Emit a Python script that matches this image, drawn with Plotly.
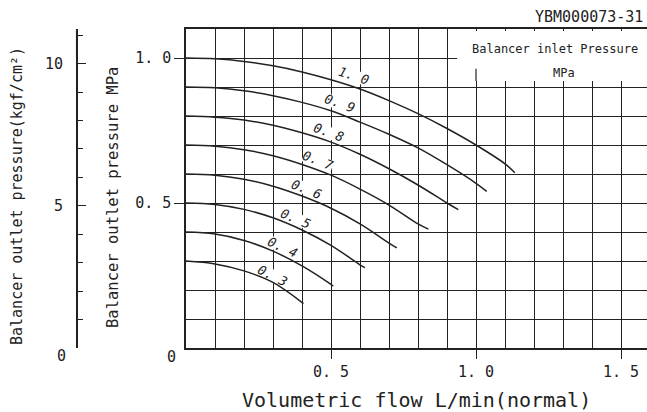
import math
import plotly.graph_objects as go

# flow (L/min normal) vs outlet pressure (MPa), one curve per inlet pressure
flow_10 = [0, 0.1, 0.2, 0.3, 0.4, 0.5, 0.6, 0.7, 0.8, 0.9, 1.0, 1.1, 1.134]
press_10 = [1.0, 0.997, 0.988, 0.973, 0.952, 0.925, 0.893, 0.853, 0.808, 0.757, 0.700, 0.635, 0.604]
flow_09 = [0, 0.1, 0.2, 0.3, 0.4, 0.5, 0.6, 0.7, 0.8, 0.9, 1.0, 1.037]
press_09 = [0.9, 0.897, 0.887, 0.870, 0.847, 0.818, 0.779, 0.737, 0.690, 0.632, 0.568, 0.540]
flow_08 = [0, 0.1, 0.2, 0.3, 0.4, 0.5, 0.6, 0.7, 0.8, 0.9, 0.939]
press_08 = [0.8, 0.796, 0.786, 0.768, 0.742, 0.710, 0.668, 0.618, 0.562, 0.500, 0.477]
flow_07 = [0, 0.1, 0.2, 0.3, 0.4, 0.5, 0.6, 0.7, 0.8, 0.836]
press_07 = [0.7, 0.696, 0.684, 0.663, 0.633, 0.596, 0.548, 0.493, 0.428, 0.410]
flow_06 = [0, 0.1, 0.2, 0.3, 0.4, 0.5, 0.6, 0.7, 0.727]
press_06 = [0.6, 0.596, 0.582, 0.558, 0.524, 0.482, 0.428, 0.362, 0.345]
flow_05 = [0, 0.1, 0.2, 0.3, 0.4, 0.5, 0.6, 0.617]
press_05 = [0.5, 0.495, 0.478, 0.449, 0.407, 0.354, 0.287, 0.277]
flow_04 = [0, 0.1, 0.2, 0.3, 0.4, 0.5, 0.508]
press_04 = [0.4, 0.393, 0.371, 0.334, 0.283, 0.219, 0.213]
flow_03 = [0, 0.1, 0.2, 0.3, 0.405]
press_03 = [0.3, 0.290, 0.266, 0.226, 0.153]

curve_labels = ["1. 0", "0. 9", "0. 8", "0. 7", "0. 6", "0. 5", "0. 4", "0. 3"]
label_x = [0.576, 0.531, 0.493, 0.455, 0.417, 0.376, 0.334, 0.297]
label_y = [0.939, 0.842, 0.742, 0.645, 0.548, 0.447, 0.347, 0.250]
label_angle = [18, 19, 20, 21, 22, 23, 25, 27]

x_ticks = [0.5, 1.0, 1.5]
x_ticktext = ["0. 5", "1. 0", "1. 5"]
y_ticks = [0.5, 1.0]
y_ticktext = ["0. 5", "1. 0"]
kgf_ticks = [5, 10]
kgf_ticktext = ["5", "10"]

INK = "#222"
FONT = "DejaVu Sans Mono"
W, H = 647, 412
L_PX, T_PX, B_PX = 186, 29, 64
PX_PER_UNIT = 290
MPA_PER_KGF = 0.0980665

curves = [(flow_10, press_10), (flow_09, press_09), (flow_08, press_08), (flow_07, press_07),
          (flow_06, press_06), (flow_05, press_05), (flow_04, press_04), (flow_03, press_03)]

fig = go.Figure()
for fx, py in curves:
    fig.add_trace(go.Scatter(x=fx, y=py, mode="lines", line=dict(color=INK, width=1.5, shape="spline"),
                             hoverinfo="skip", showlegend=False))

# dummy trace so the kgf/cm2 axis gets drawn
fig.add_trace(go.Scatter(x=[0], y=[0], yaxis="y2", mode="markers", marker=dict(opacity=0),
                         hoverinfo="skip", showlegend=False))

plot_w = W - L_PX
grid = dict(showgrid=True, gridcolor=INK, gridwidth=1.2, dtick=0.1, tick0=0, ticks="")

fig.update_layout(
    width=W, height=H,
    margin=dict(l=0, r=0, t=T_PX, b=B_PX),
    paper_bgcolor="white", plot_bgcolor="white",
    font=dict(family=FONT, color=INK, size=14),
    showlegend=False,
    xaxis=dict(
        domain=[L_PX / W, 1], range=[0, plot_w / PX_PER_UNIT],
        tickvals=x_ticks, ticktext=x_ticktext, ticks="outside", ticklen=9, tickwidth=1.3, tickcolor=INK,
        showgrid=True, gridcolor=INK, gridwidth=1.2, minor=grid,
        showline=True, linecolor=INK, linewidth=1.5, mirror=True, zeroline=False,
        tickfont=dict(size=15),
    ),
    yaxis=dict(
        range=[0, 1.1],
        tickvals=y_ticks, ticktext=y_ticktext, ticks="outside", ticklen=10, tickwidth=1.3, tickcolor=INK,
        showgrid=True, gridcolor=INK, gridwidth=1.2, minor=grid,
        showline=True, linecolor=INK, linewidth=1.5, zeroline=False,
        tickfont=dict(size=15),
    ),
    yaxis2=dict(
        overlaying="y", anchor="free", side="left", position=76.7 / W,
        range=[0, 1.1 / MPA_PER_KGF],
        tickvals=kgf_ticks, ticktext=kgf_ticktext, ticks="inside", ticklen=9, tickwidth=1.3, tickcolor=INK,
        ticklabelstandoff=10,
        minor=dict(dtick=1, tick0=0, ticks="inside", ticklen=6, tickwidth=1.3, tickcolor=INK),
        showgrid=False, showline=True, linecolor=INK, linewidth=1.5, zeroline=False,
        tickfont=dict(size=15),
    ),
)

# blank box for the legend text in the upper right, plus the taller stub at 1.0
fig.add_shape(type="rect", xref="x", yref="y", x0=0.935, x1=1.7, y0=0.921, y1=1.093,
              fillcolor="white", line_width=0, layer="above")
fig.add_shape(type="line", xref="x", yref="y", x0=1.0, x1=1.0, y0=0.921, y1=0.963,
              line=dict(color=INK, width=1.2), layer="above")
fig.add_shape(type="line", xref="paper", yref="y", x0=76.7 / W, x1=76.7 / W, y0=1.0, y1=1.1,
              line=dict(color=INK, width=1.5))

# curve labels: a white rotated patch breaks the grid (under the curves), text goes on top
box_w, box_h = 31, 12
for txt, lx, ly, ang in zip(curve_labels, label_x, label_y, label_angle):
    a = math.radians(ang)
    ux, uy = math.cos(a) * box_w / 2 / PX_PER_UNIT, -math.sin(a) * box_w / 2 / PX_PER_UNIT
    vx, vy = math.sin(a) * box_h / 2 / PX_PER_UNIT, math.cos(a) * box_h / 2 / PX_PER_UNIT
    pts = [(lx - ux - vx, ly - uy - vy), (lx + ux - vx, ly + uy - vy),
           (lx + ux + vx, ly + uy + vy), (lx - ux + vx, ly - uy + vy)]
    path = "M " + " L ".join(f"{px:.4f},{py:.4f}" for px, py in pts) + " Z"
    fig.add_shape(type="path", path=path, xref="x", yref="y", fillcolor="white", line_width=0,
                  layer="between")
    fig.add_annotation(x=lx, y=ly, text=txt, showarrow=False, textangle=ang,
                       xanchor="center", yanchor="middle", font=dict(size=13, style="italic"))


def px_y(py):
    return (H - B_PX - py) / (H - B_PX - T_PX)


def note(px, py, text, size, angle=0, xanchor="center"):
    fig.add_annotation(x=px / W, y=px_y(py), xref="paper", yref="paper", text=text, showarrow=False,
                       textangle=angle, xanchor=xanchor, yanchor="middle", font=dict(size=size))


note(555, 49, "Balancer inlet Pressure", 12)
note(564, 73, "MPa", 12)
note(645, 17, "YBM000073-31", 15, xanchor="right")
note(113, 197, "Balancer outlet pressure MPa", 15.5, angle=-90)
note(17, 196, "Balancer outlet pressure(kgf/cm²)", 15, angle=-90)
note(416, 400, "Volumetric flow L/min(normal)", 20)
note(171, 357, "0", 15)
note(62, 356, "0", 15)

fig.write_html("out.html", config={"displayModeBar": False},
               post_script="document.body.style.margin='0';")
